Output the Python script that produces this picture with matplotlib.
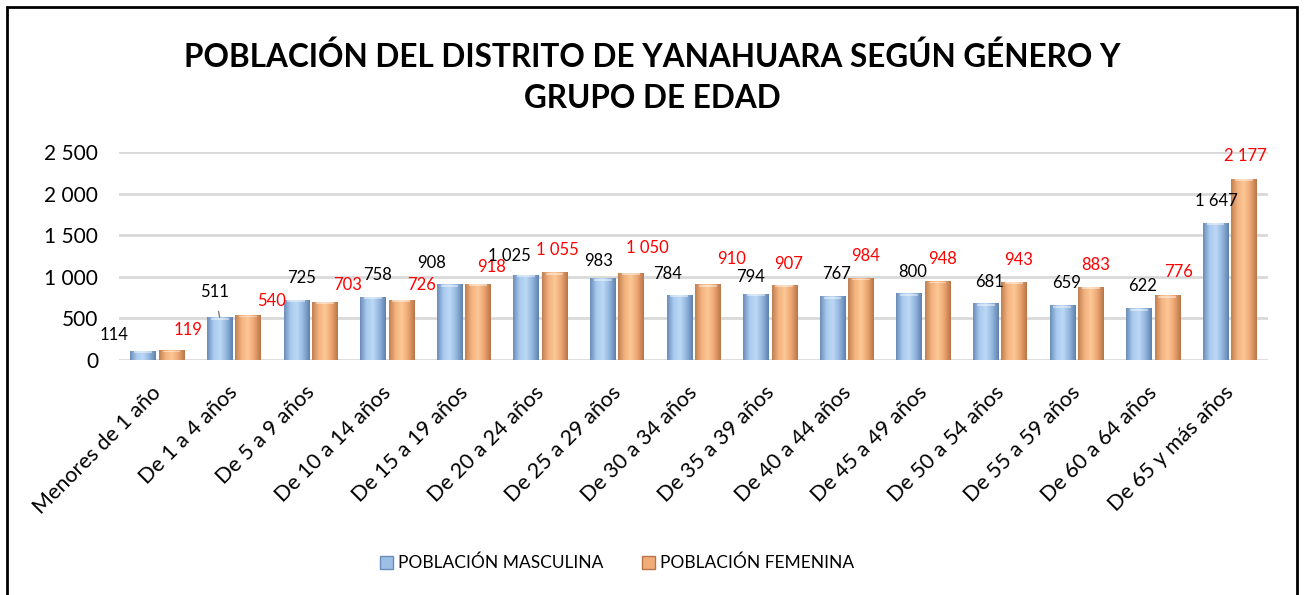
import numpy as np
import matplotlib.pyplot as plt
from matplotlib.patches import Patch, Rectangle
from matplotlib.colors import LinearSegmentedColormap
from matplotlib.transforms import ScaledTranslation

plt.rcParams['font.family'] = ['Lato', 'DejaVu Sans']

grupos = ['Menores de 1 año', 'De 1 a 4 años', 'De 5 a 9 años', 'De 10 a 14 años',
          'De 15 a 19 años', 'De 20 a 24 años', 'De 25 a 29 años', 'De 30 a 34 años',
          'De 35 a 39 años', 'De 40 a 44 años', 'De 45 a 49 años', 'De 50 a 54 años',
          'De 55 a 59 años', 'De 60 a 64 años', 'De 65 y más años']
masculina = [114, 511, 725, 758, 908, 1025, 983, 784, 794, 767, 800, 681, 659, 622, 1647]
femenina = [119, 540, 703, 726, 918, 1055, 1050, 910, 907, 984, 948, 943, 883, 776, 2177]
yticks = [0, 500, 1000, 1500, 2000, 2500]

# label offsets (pixels) from bar top centre, as placed in the original
off_m = [(-29, 16), (-5, 25), (5, 22), (5, 22), (-18, 21), (-17, 19), (-4, 17), (-12, 21),
         (-5, 17), (4, 22), (4, 21), (4, 21), (4, 22), (4, 22), (1, 22)]
off_f = [(17, 20), (23, 14), (23, 17), (20, 15), (14, 17), (3, 22), (16, 25), (24, 25),
         (4, 21), (5, 22), (5, 22), (4, 22), (5, 22), (11, 23), (2, 23)]


def fmt(v):
    return '{:,}'.format(v).replace(',', ' ')


fig = plt.figure(figsize=(13.04, 5.95), dpi=100)
ax = fig.add_axes([119 / 1304, 1 - 360 / 595, (1268 - 119) / 1304, 208 / 595])

x = np.arange(len(grupos))
w = 0.33
d = 0.185
bm = ax.bar(x - d, masculina, w, color='none', edgecolor='none', zorder=3)
bf = ax.bar(x + d, femenina, w, color='none', edgecolor='none', zorder=3)

cmap_m = LinearSegmentedColormap.from_list('m', ['#6a8cb8', '#a9cbef', '#bcd8f5', '#93b6df', '#5f81ad'])
cmap_f = LinearSegmentedColormap.from_list('f', ['#c07f50', '#f3b27f', '#fbc896', '#eca571', '#b87648'])
grad = np.linspace(0, 1, 64).reshape(1, -1)
for bars, cm in [(bm, cmap_m), (bf, cmap_f)]:
    for p in bars:
        x0, y0 = p.get_x(), p.get_y()
        im = ax.imshow(grad, cmap=cm, aspect='auto', zorder=3,
                       extent=[x0, x0 + p.get_width(), y0, y0 + p.get_height()])
        im.set_clip_path(p)
        # light cap on top of each bar
        ax.add_patch(Rectangle((x0 + p.get_width() * 0.15, p.get_height() - 28),
                               p.get_width() * 0.7, 22, color='white', alpha=0.45,
                               lw=0, zorder=4))

for i in range(len(grupos)):
    dx, dy = off_m[i]
    kw = {}
    if i == 1:
        kw = dict(arrowprops=dict(arrowstyle='-', color='#808080', lw=1, shrinkA=6, shrinkB=0))
    ax.annotate(fmt(masculina[i]), (x[i] - d, masculina[i]), xytext=(dx * 0.72, dy * 0.72),
                textcoords='offset points', ha='center', va='center', fontsize=12,
                color='black', zorder=5, **kw)
    dx, dy = off_f[i]
    ax.annotate(fmt(femenina[i]), (x[i] + d, femenina[i]), xytext=(dx * 0.72, dy * 0.72),
                textcoords='offset points', ha='center', va='center', fontsize=12,
                color='red', zorder=5)

ax.set_xlim(-0.5, len(grupos) - 0.5)
ax.set_ylim(0, 2500)
ax.set_yticks(yticks)
ax.set_yticklabels([fmt(v) for v in yticks], fontsize=15)
ax.set_xticks(x)
ax.set_xticklabels(grupos, rotation=45, ha='right', fontsize=15.5)
ax.tick_params(axis='y', length=0, pad=15)
ax.tick_params(axis='x', length=0, pad=16)
shift = ScaledTranslation(8 / 100, 0, fig.dpi_scale_trans)
for lbl in ax.get_xticklabels():
    lbl.set_transform(lbl.get_transform() + shift)
ax.yaxis.grid(True, color='#d9d9d9', lw=2)
ax.set_axisbelow(True)
for s in ax.spines.values():
    s.set_visible(False)

fig.text(0.5, 1 - 77 / 595, 'POBLACIÓN DEL DISTRITO DE YANAHUARA SEGÚN GÉNERO Y\nGRUPO DE EDAD',
         ha='center', va='center', fontsize=22.7, fontweight='bold', linespacing=1.5)

handles = [Patch(facecolor='#9dbfe6', edgecolor='#6a8cb8'),
           Patch(facecolor='#f0ad7a', edgecolor='#b87648')]
fig.legend(handles, ['POBLACIÓN MASCULINA', 'POBLACIÓN FEMENINA'], loc='center',
           bbox_to_anchor=(617 / 1304, 1 - 563 / 595), ncol=2, frameon=False, fontsize=12.5,
           handlelength=0.75, handleheight=0.75, handletextpad=0.3, columnspacing=2.2)

fig.add_artist(Rectangle((7 / 1304, -0.02), 1290 / 1304, 1 - 7 / 595 + 0.02,
                         transform=fig.transFigure, fill=False, edgecolor='black', lw=2))

fig.savefig('out.png', dpi=100)
